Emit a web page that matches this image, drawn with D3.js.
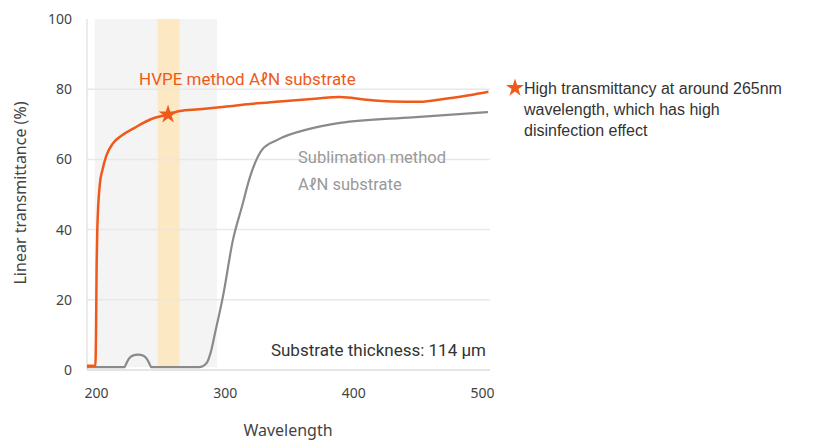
<!DOCTYPE html>
<html>
<head>
<meta charset="utf-8">
<script src="https://cdn.jsdelivr.net/npm/d3@7"></script>
<style>
  body { margin: 0; background: #fff; }
  svg { display: block; }
</style>
</head>
<body>
<div id="chart"></div>
<script>
var width = 815, height = 443

// data
var hvpe = [[193,1.2],[199.5,1.2],[200,10],[200.5,30],[201,40],[203,53],[205,57],[208,61],[213,64.5],[220,66.8],
  [230,69],[243,71.5],[256,72.8],[265,73.8],[280,74.3],[300,75],[320,75.8],[343,76.5],[370,77.3],[390,77.8],
  [410,77],[430,76.5],[452,76.4],[470,77.2],[490,78.3],[505,79.3]]
var sublimation = [[193,0.8],[222,0.8],[223.5,1.8],[225.5,3.2],[228.5,4.1],[232.6,4.4],[236.5,4.1],[239.5,3.2],
  [241.5,1.8],[243,0.8],[280,0.8],
  [286,2],[289,4.8],[292.5,10.5],[298.7,21],[306.4,37],[313.4,46.5],[319.7,55],[329,62.7],[340.6,65.5],
  [366,68.7],[389.6,70.4],[446,72],[504.6,73.5]]
var xTicks = [200, 300, 400, 500]
var yTicks = [0, 20, 40, 60, 80, 100]
var uvBand = [199, 294]
var peakBand = [248, 265]
var starPoint = [256, 72.8]
var noteLines = ["High transmittancy at around 265nm", "wavelength, which has high", "disinfection effect"]

var orange = "#ef5a1b", grey = "#8a8a8a"

var svg = d3.select("#chart").append("svg")
  .attr("width", width)
  .attr("height", height)

var x = d3.scaleLinear().domain([200, 500]).range([96, 482])
var y = d3.scaleLinear().domain([0, 100]).range([370, 19])

// shaded regions
svg.append("rect")
  .attr("x", x(uvBand[0])).attr("y", y(100))
  .attr("width", x(uvBand[1]) - x(uvBand[0]))
  .attr("height", y(0.8) - y(100))
  .attr("fill", "#f4f4f4")
svg.append("rect")
  .attr("x", x(peakBand[0])).attr("y", y(100))
  .attr("width", x(peakBand[1]) - x(peakBand[0]))
  .attr("height", y(0.8) - y(100))
  .attr("fill", "#fde8c4")

// gridlines
svg.append("g")
  .selectAll("line")
  .data(yTicks.filter(d => d < 100))
  .enter().append("line")
    .attr("x1", 87).attr("x2", 490)
    .attr("y1", d => y(d)).attr("y2", d => y(d))
    .attr("stroke", d => d == 0 ? "#dcdcdc" : "#e8e8e8")
    .attr("stroke-width", 1.5)
svg.append("line")
  .attr("x1", 87).attr("x2", 87)
  .attr("y1", y(100)).attr("y2", y(0))
  .attr("stroke", "#e4e4e4").attr("stroke-width", 1.5)

// y axis
var yAxis = svg.append("g")
  .attr("transform", "translate(72,0)")
  .call(d3.axisLeft(y).tickValues(yTicks).tickSize(0).tickPadding(0))
yAxis.select(".domain").remove()
yAxis.selectAll("text")
  .style("font-family", "Noto Sans")
  .style("font-size", "14px")
  .attr("fill", "#444")

// x axis
var xAxis = svg.append("g")
  .attr("transform", "translate(0,388)")
  .call(d3.axisBottom(x).tickValues(xTicks).tickSize(0).tickPadding(0))
xAxis.select(".domain").remove()
xAxis.selectAll("text")
  .style("font-family", "Noto Sans")
  .style("font-size", "14px")
  .attr("fill", "#444")

// axis titles
svg.append("text")
  .attr("transform", "translate(26,193) rotate(-90)")
  .attr("text-anchor", "middle")
  .style("font-family", "Noto Sans")
  .style("font-size", "16px")
  .attr("fill", "#444")
  .text("Linear transmittance (%)")
svg.append("text")
  .attr("x", 288).attr("y", 436)
  .attr("text-anchor", "middle")
  .style("font-family", "Noto Sans")
  .style("font-size", "16px")
  .attr("fill", "#444")
  .text("Wavelength")

// lines
var line = d3.line()
  .x(d => x(d[0]))
  .y(d => y(d[1]))
  .curve(d3.curveMonotoneX)

svg.append("path")
  .datum(sublimation)
  .attr("d", line)
  .attr("fill", "none")
  .attr("stroke", grey)
  .attr("stroke-width", 2.2)
svg.append("path")
  .datum(hvpe)
  .attr("d", line)
  .attr("fill", "none")
  .attr("stroke", orange)
  .attr("stroke-width", 2.5)

svg.append("path")
  .attr("d", d3.symbol().type(d3.symbolStar).size(110)())
  .attr("transform", `translate(${x(starPoint[0])},${y(starPoint[1])})`)
  .attr("fill", orange)

// labels
svg.append("text")
  .attr("x", 139).attr("y", 85)
  .style("font-family", "Roboto")
  .style("font-size", "17px")
  .attr("fill", orange)
  .text("HVPE method AℓN substrate")
svg.append("text")
  .attr("x", 298).attr("y", 163)
  .style("font-family", "Roboto")
  .style("font-size", "16.5px")
  .attr("fill", "#999")
  .text("Sublimation method")
svg.append("text")
  .attr("x", 298).attr("y", 190)
  .style("font-family", "Roboto")
  .style("font-size", "16.5px")
  .attr("fill", "#999")
  .text("AℓN substrate")
svg.append("text")
  .attr("x", 486).attr("y", 356)
  .attr("text-anchor", "end")
  .style("font-family", "Roboto")
  .style("font-size", "17px")
  .attr("fill", "#333")
  .text("Substrate thickness: 114 μm")

// note on the right
svg.append("path")
  .attr("d", d3.symbol().type(d3.symbolStar).size(100)())
  .attr("transform", "translate(515,88)")
  .attr("fill", orange)
svg.append("g")
  .selectAll("text")
  .data(noteLines)
  .enter().append("text")
    .attr("x", 524)
    .attr("y", (d, i) => 94 + i * 21)
    .style("font-family", "Liberation Sans")
    .style("font-size", "16px")
    .attr("fill", "#333")
    .text(d => d)
</script>
</body>
</html>
